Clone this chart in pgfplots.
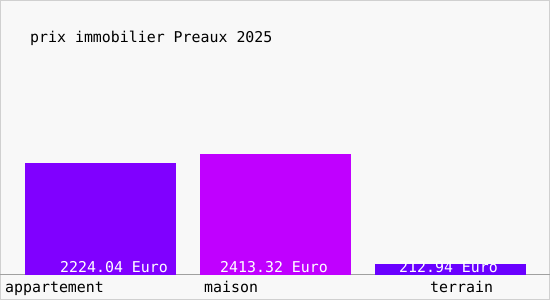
\documentclass[border=0pt]{standalone}
\usepackage{fontspec}
\usepackage{pgfplots}
\pgfplotsset{compat=1.18}
\newfontfamily\mono{DejaVu Sans Mono}
\definecolor{bgc}{HTML}{F8F8F8}
\definecolor{frm}{HTML}{D0D0D0}
\definecolor{cA}{HTML}{8000FF}
\definecolor{cB}{HTML}{C000FF}
\definecolor{cC}{HTML}{6A00FF}
\definecolor{axc}{HTML}{A0A0A0}
\begin{document}
\begin{tikzpicture}[font=\mono\fontsize{14.9}{16}\selectfont]
\useasboundingbox (0,0) rectangle (550pt,300pt);
\fill[bgc] (0,0) rectangle (550pt,300pt);
\draw[frm,line width=1pt] (0.5pt,0.5pt) rectangle (549.5pt,299.5pt);
\begin{axis}[
  at={(0pt,25pt)}, anchor=south west,
  scale only axis, width=550pt, height=275pt,
  xmin=-0.5743, xmax=2.5686, ymin=0, ymax=5473,
  axis y line=none, axis x line=bottom,
  axis line style={draw=axc, line width=1pt, -},
  xtick=\empty, ytick=\empty,
  ybar, bar shift=0pt, bar width=151pt,
  clip=false,
]
\addplot[fill=cA, draw=none] coordinates {(0,2224.04)};
\addplot[fill=cB, draw=none] coordinates {(1,2413.32)};
\addplot[fill=cC, draw=none] coordinates {(2,212.94)};
\end{axis}
\node[anchor=base west, inner sep=0pt] at (30pt,257pt) {prix immobilier Preaux 2025};
\node[anchor=base west, inner sep=0pt] at (5pt,7pt) {appartement};
\node[anchor=base west, inner sep=0pt] at (204pt,7pt) {maison};
\node[anchor=base west, inner sep=0pt] at (430pt,7pt) {terrain};
\node[anchor=base west, inner sep=0pt, white] at (60pt,27pt) {2224.04 Euro};
\node[anchor=base west, inner sep=0pt, white] at (220pt,27pt) {2413.32 Euro};
\node[anchor=base west, inner sep=0pt, white] at (399pt,27pt) {212.94 Euro};
\end{tikzpicture}
\end{document}
